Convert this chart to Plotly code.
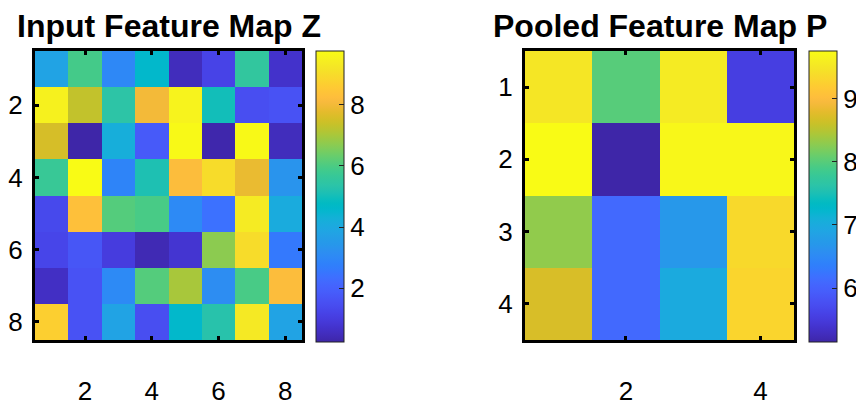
import plotly.graph_objects as go

# Input feature map Z (8x8), rows top->bottom
Z = [
    [3.8, 5.9, 3.0, 4.6, 0.5, 1.2, 5.55, 0.7],
    [9.5, 7.3, 5.4, 8.0, 9.55, 5.0, 1.5, 1.6],
    [7.55, 0.25, 4.2, 1.8, 9.7, 0.3, 9.7, 0.5],
    [5.7, 9.75, 2.9, 5.15, 8.2, 9.0, 7.85, 3.35],
    [1.35, 8.3, 6.1, 5.95, 3.05, 2.4, 9.35, 4.1],
    [1.25, 1.7, 1.0, 0.4, 0.8, 6.7, 9.0, 2.6],
    [0.6, 1.6, 3.05, 6.1, 7.0, 3.15, 5.95, 8.2],
    [8.7, 1.6, 3.8, 1.5, 4.6, 5.3, 9.3, 3.8],
]
# Pooled feature map P (4x4)
P = [
    [9.5, 8.0, 9.55, 5.55],
    [9.75, 5.15, 9.7, 9.7],
    [8.3, 6.1, 6.7, 9.35],
    [8.7, 6.1, 7.0, 9.3],
]
idx8 = [1, 2, 3, 4, 5, 6, 7, 8]
idx4 = [1, 2, 3, 4]
z_ticks_xy = [2, 4, 6, 8]
p_ticks_x = [2, 4]
p_ticks_y = [1, 2, 3, 4]
z_cbar_ticks = [2, 4, 6, 8]
p_cbar_ticks = [6, 7, 8, 9]
titles = ["Input Feature Map Z", "Pooled Feature Map P"]

parula_rgb = [
    (0.2422, 0.1504, 0.6603), (0.2504, 0.1650, 0.7076), (0.2578, 0.1818, 0.7511),
    (0.2647, 0.1978, 0.7952), (0.2706, 0.2147, 0.8364), (0.2751, 0.2342, 0.8710),
    (0.2783, 0.2559, 0.8991), (0.2803, 0.2782, 0.9221), (0.2813, 0.3006, 0.9414),
    (0.2810, 0.3228, 0.9579), (0.2795, 0.3447, 0.9717), (0.2760, 0.3667, 0.9829),
    (0.2699, 0.3892, 0.9906), (0.2602, 0.4123, 0.9952), (0.2440, 0.4358, 0.9988),
    (0.2206, 0.4603, 0.9973), (0.1963, 0.4847, 0.9892), (0.1834, 0.5074, 0.9798),
    (0.1786, 0.5289, 0.9682), (0.1764, 0.5499, 0.9520), (0.1687, 0.5703, 0.9359),
    (0.1540, 0.5902, 0.9218), (0.1460, 0.6091, 0.9079), (0.1380, 0.6276, 0.8973),
    (0.1248, 0.6459, 0.8883), (0.1113, 0.6635, 0.8763), (0.0952, 0.6798, 0.8598),
    (0.0689, 0.6948, 0.8394), (0.0297, 0.7082, 0.8163), (0.0036, 0.7203, 0.7917),
    (0.0067, 0.7312, 0.7660), (0.0433, 0.7411, 0.7394), (0.0964, 0.7500, 0.7120),
    (0.1408, 0.7584, 0.6842), (0.1717, 0.7670, 0.6554), (0.1938, 0.7758, 0.6251),
    (0.2161, 0.7843, 0.5923), (0.2470, 0.7918, 0.5567), (0.2906, 0.7973, 0.5188),
    (0.3406, 0.8008, 0.4789), (0.3909, 0.8029, 0.4354), (0.4456, 0.8024, 0.3909),
    (0.5044, 0.7993, 0.3480), (0.5616, 0.7942, 0.3045), (0.6174, 0.7876, 0.2612),
    (0.6720, 0.7793, 0.2227), (0.7242, 0.7698, 0.1910), (0.7738, 0.7598, 0.1646),
    (0.8203, 0.7498, 0.1535), (0.8634, 0.7406, 0.1596), (0.9035, 0.7330, 0.1774),
    (0.9393, 0.7288, 0.2100), (0.9728, 0.7298, 0.2394), (0.9956, 0.7434, 0.2371),
    (0.9970, 0.7659, 0.2199), (0.9952, 0.7893, 0.2028), (0.9892, 0.8136, 0.1885),
    (0.9786, 0.8386, 0.1766), (0.9676, 0.8639, 0.1643), (0.9610, 0.8890, 0.1537),
    (0.9597, 0.9135, 0.1423), (0.9628, 0.9373, 0.1265), (0.9691, 0.9606, 0.1064),
    (0.9769, 0.9839, 0.0805),
]
n = len(parula_rgb)
parula = [[i / (n - 1), "rgb(%d,%d,%d)" % tuple(round(c * 255) for c in rgb)]
          for i, rgb in enumerate(parula_rgb)]

FONT = "Liberation Sans, Arial, Helvetica, sans-serif"
# the page body has an 8px margin, so the figure is drawn 8px in from the corner
OFF = 8
W, H = 864 - OFF, 408 - OFF

def px_x(p):
    return (p - OFF) / W

def px_y(p):
    return 1 - (p - OFF) / H

cb_common = dict(
    thickness=28, thicknessmode="pixels",
    len=(342 - 51) / H, lenmode="fraction",
    y=px_y((51 + 342) / 2), yanchor="middle",
    xanchor="left", xpad=0, ypad=0,
    outlinewidth=1, outlinecolor="#222222",
    ticks="inside", ticklen=5, tickwidth=1, tickcolor="#222222",
    tickfont=dict(family=FONT, size=26, color="black"),
)

fig = go.Figure()
fig.add_trace(go.Heatmap(
    z=Z, x=idx8, y=idx8, colorscale=parula, xaxis="x", yaxis="y",
    colorbar=dict(x=px_x(316), tickvals=z_cbar_ticks, **cb_common),
))
fig.add_trace(go.Heatmap(
    z=P, x=idx4, y=idx4, colorscale=parula, xaxis="x2", yaxis="y2",
    colorbar=dict(x=px_x(809), tickvals=p_cbar_ticks, **cb_common),
))

axis_common = dict(
    showline=True, linewidth=3, linecolor="black", mirror="allticks",
    ticks="inside", ticklen=4, tickwidth=3, tickcolor="black",
    showgrid=False, zeroline=False, automargin=False,
    tickfont=dict(family=FONT, size=26, color="black"),
)

fig.update_layout(
    width=W, height=H,
    margin=dict(l=0, r=0, t=0, b=0, autoexpand=False),
    paper_bgcolor="white", plot_bgcolor="white",
    showlegend=False,
    xaxis=dict(domain=[px_x(35), px_x(302)], range=[0.5, 8.5], anchor="y",
               tickvals=z_ticks_xy, ticklabelstandoff=26, **axis_common),
    yaxis=dict(domain=[px_y(340), px_y(51)], range=[8.5, 0.5], anchor="x",
               tickvals=z_ticks_xy, ticklabelstandoff=4, **axis_common),
    xaxis2=dict(domain=[px_x(525), px_x(794)], range=[0.5, 4.5], anchor="y2",
                tickvals=p_ticks_x, ticklabelstandoff=26, **axis_common),
    yaxis2=dict(domain=[px_y(340), px_y(51)], range=[4.5, 0.5], anchor="x2",
                tickvals=p_ticks_y, ticklabelstandoff=4, **axis_common),
    annotations=[
        dict(text="<b>%s</b>" % titles[0], x=px_x(168.5), y=px_y(26),
             xref="paper", yref="paper", xanchor="center", yanchor="middle",
             showarrow=False, font=dict(family=FONT, size=32, color="black")),
        dict(text="<b>%s</b>" % titles[1], x=px_x(659.5), y=px_y(26),
             xref="paper", yref="paper", xanchor="center", yanchor="middle",
             showarrow=False, font=dict(family=FONT, size=32, color="black")),
    ],
)

fig.write_html("out.html")
